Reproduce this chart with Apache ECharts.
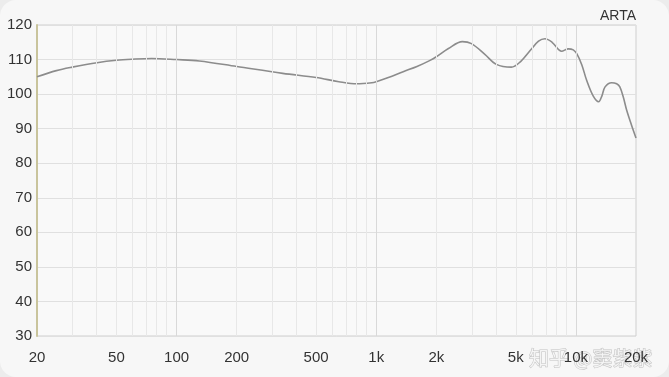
<!DOCTYPE html>
<html>
<head>
<meta charset="utf-8">
<script src="https://cdn.jsdelivr.net/npm/echarts@6/dist/echarts.min.js"></script>
<style>
  html, body { margin: 0; padding: 0; background: #ececec; }
  .card { width: 669px; height: 377px; background: #f7f7f7; border-radius: 16px; overflow: hidden; }
  #chart { width: 669px; height: 377px; }
</style>
</head>
<body>
<div class="card"><div id="chart"></div></div>
<script>
// frequency response
var freqs = [20, 25, 30, 40, 50, 60, 75, 100, 130, 200, 340, 500, 650, 800, 950, 1000, 1150, 1365, 1600, 1850, 2000, 2300, 2700, 3000, 3500, 4000, 4750, 5300, 5900, 6500, 7000, 7600, 8480, 9160, 9700, 10100, 10700, 11320, 12200, 13000, 13500, 14000, 15100, 16000, 16600, 17300, 17950, 19000, 20000];
var spl = [105, 106.8, 107.8, 109.1, 109.8, 110.1, 110.3, 110, 109.6, 108, 106, 104.8, 103.6, 103, 103.3, 103.6, 104.8, 106.5, 108, 109.7, 110.8, 113.2, 115.2, 114.6, 111.5, 108.6, 107.8, 109.5, 112.6, 115.3, 116, 115, 112.4, 113.1, 112.8, 111.7, 108.5, 104, 99.5, 97.8, 99.5, 102.1, 103.3, 103, 102.1, 99, 95.4, 91, 87.3];
var tickFreqs = [20, 50, 100, 200, 500, 1000, 2000, 5000, 10000, 20000];
var tickLabels = ["20", "50", "100", "200", "500", "1k", "2k", "5k", "10k", "20k"];
var majorFreqs = [100, 1000, 10000];

var gridFreqs = [];
[10, 100, 1000, 10000].forEach(function (d) {
  for (var k = 1; k < 10; k++) {
    var f = d * k;
    if (f > 20 && f < 20000) gridFreqs.push(f);
  }
});

var chart = echarts.init(document.getElementById("chart"));
var lg = function (f) { return Math.log10(f); };

var option = {
  backgroundColor: "transparent",
  textStyle: { fontFamily: "Liberation Sans, Arial, sans-serif" },
  title: {
    text: "ARTA",
    right: 28,
    top: 4,
    textStyle: { fontSize: 14, fontWeight: "normal", color: "#333" }
  },
  grid: {
    left: 37,
    right: 33,
    top: 25,
    bottom: 41,
    show: true,
    borderColor: "#cfcfcf",
    borderWidth: 1,
    backgroundColor: "#f9f9f9"
  },
  xAxis: {
    type: "value",
    min: lg(20),
    max: lg(20000),
    axisLine: { show: false },
    axisTick: { show: false },
    splitLine: { show: false },
    axisLabel: {
      customValues: tickFreqs.map(lg),
      margin: 14,
      fontSize: 15,
      color: "#333",
      formatter: function (v) {
        var f = Math.round(Math.pow(10, v));
        var i = tickFreqs.indexOf(f);
        return i >= 0 ? tickLabels[i] : "";
      }
    }
  },
  yAxis: {
    type: "value",
    min: 30,
    max: 120,
    interval: 10,
    axisLine: { show: true, lineStyle: { color: "#c9c49c", width: 2 } },
    axisTick: { show: false },
    axisLabel: { fontSize: 15, color: "#333", margin: 5 },
    splitLine: { lineStyle: { color: "#e0e0e0", width: 1 } }
  },
  series: [
    {
      // vertical log grid
      type: "line",
      data: [],
      z: 1,
      silent: true,
      markLine: {
        silent: true,
        symbol: ["none", "none"],
        label: { show: false },
        animation: false,
        data: gridFreqs.map(function (f) {
          var major = majorFreqs.indexOf(f) >= 0;
          return {
            xAxis: lg(f),
            lineStyle: { color: major ? "#d9d9d9" : "#e8e8e8", width: 1, type: "solid" }
          };
        })
      }
    },
    {
      type: "line",
      z: 3,
      smooth: 0.35,
      symbol: "none",
      data: freqs.map(function (f, i) { return [lg(f), spl[i]]; }),
      lineStyle: { color: "#8c8c8c", width: 1.6 },
      animation: false
    }
  ],
  graphic: [
    {
      type: "text",
      right: 16,
      bottom: 8,
      style: {
        text: "知乎 @窦紫紫",
        font: '20px "Noto Sans CJK SC"',
        fill: "rgba(255,255,255,0.7)",
        stroke: "rgba(150,150,150,0.55)",
        lineWidth: 1
      }
    }
  ]
};

chart.setOption(option);
window.onresize = function () {
  chart.resize();
};
</script>
</body>
</html>
